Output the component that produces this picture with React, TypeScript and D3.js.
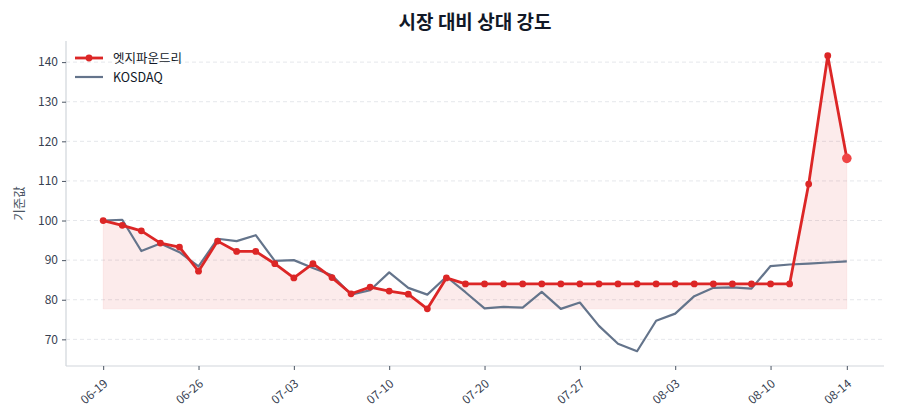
import { useEffect, useRef } from 'react'
import * as d3 from 'd3'

const dates = [
  '06-19', '06-20', '06-21', '06-22', '06-23', '06-26', '06-27', '06-28', '06-29', '06-30',
  '07-03', '07-04', '07-05', '07-06', '07-07', '07-10', '07-11', '07-12', '07-13', '07-14',
  '07-20', '07-21', '07-24', '07-25', '07-26', '07-27', '07-28', '07-31', '08-01', '08-02',
  '08-03', '08-04', '08-07', '08-08', '08-09', '08-10', '08-11', '08-12', '08-13', '08-14',
]

const stock = [
  100, 98.8, 97.4, 94.3, 93.3, 87.2, 94.8, 92.2, 92.2, 89.1,
  85.5, 89.1, 85.6, 81.5, 83.2, 82.2, 81.4, 77.7, 85.5, 84.0,
  84.0, 84.0, 84.0, 84.0, 84.0, 84.0, 84.0, 84.0, 84.0, 84.0,
  84.0, 84.0, 84.0, 84.0, 84.0, 84.0, 84.0, 109.2, 141.6, 115.7,
]

const kosdaq = [
  100, 100.2, 92.3, 94.2, 92.0, 88.4, 95.4, 94.8, 96.3, 89.8,
  90.0, 88.0, 86.2, 81.3, 82.4, 86.9, 83.0, 81.3, 85.8, 81.9,
  77.8, 78.2, 78.0, 82.0, 77.7, 79.3, 73.4, 68.9, 67.0, 74.7,
  76.5, 80.9, 83.0, 83.1, 82.8, 88.5, 88.9, 89.1, 89.4, 89.7,
]

const yTicks = [70, 80, 90, 100, 110, 120, 130, 140]
const xTickIdx = [0, 5, 10, 15, 20, 25, 30, 35, 39]

const W = 900
const H = 420
const FONT = '"Noto Sans CJK KR", "Noto Sans", sans-serif'

export default function App() {
  const ref = useRef<SVGSVGElement>(null)

  useEffect(() => {
    if (!ref.current) return
    const svg = d3.select(ref.current)
    svg.selectAll('*').remove()

    const m = { left: 66, right: 16, top: 41, bottom: 54 }
    const n = dates.length
    const pad = (n - 1) * 0.05
    const x = d3.scaleLinear().domain([-pad, n - 1 + pad]).range([m.left, W - m.right])

    const all = [...stock, ...kosdaq]
    const lo = d3.min(all) as number
    const hi = d3.max(all) as number
    const yPad = (hi - lo) * 0.05
    const y = d3.scaleLinear().domain([lo - yPad, hi + yPad]).range([H - m.bottom, m.top])

    // grid
    svg.append('g')
      .selectAll('line')
      .data(yTicks)
      .join('line')
      .attr('x1', m.left).attr('x2', W - m.right)
      .attr('y1', d => y(d)).attr('y2', d => y(d))
      .attr('stroke', '#e5e7eb')
      .attr('stroke-dasharray', '4,3')

    // fill under stock line down to its min
    const base = d3.min(stock) as number
    const area = d3.area<number>()
      .x((_, i) => x(i))
      .y0(y(base))
      .y1(d => y(d))
    svg.append('path')
      .attr('d', area(stock) as string)
      .attr('fill', '#dc2626')
      .attr('fill-opacity', 0.09)
      .attr('stroke', '#dc2626')
      .attr('stroke-opacity', 0.06)

    // spines
    svg.append('line')
      .attr('x1', m.left).attr('x2', m.left)
      .attr('y1', m.top).attr('y2', H - m.bottom)
      .attr('stroke', '#d1d5db').attr('stroke-width', 1.2)
    svg.append('line')
      .attr('x1', m.left).attr('x2', W - m.right)
      .attr('y1', H - m.bottom).attr('y2', H - m.bottom)
      .attr('stroke', '#d1d5db').attr('stroke-width', 1.2)

    // y axis
    const yAxis = svg.append('g')
      .attr('transform', `translate(${m.left},0)`)
      .call(d3.axisLeft(y).tickValues(yTicks).tickSize(4).tickPadding(4))
    yAxis.select('.domain').remove()
    yAxis.selectAll('line').attr('stroke', '#4b5563')
    yAxis.selectAll('text')
      .attr('font-family', FONT).attr('font-size', 12).attr('fill', '#374151')

    // x axis
    const xAxis = svg.append('g')
      .attr('transform', `translate(0,${H - m.bottom})`)
      .call(d3.axisBottom(x).tickValues(xTickIdx).tickSize(4).tickFormat(d => dates[d as number]))
    xAxis.select('.domain').remove()
    xAxis.selectAll('line').attr('stroke', '#4b5563')
    xAxis.selectAll('text')
      .attr('font-family', FONT).attr('font-size', 12).attr('fill', '#374151')
      .attr('text-anchor', 'end')
      .attr('x', 0).attr('y', 0).attr('dy', 0)
      .attr('transform', 'translate(5,19) rotate(-40)')

    // kosdaq
    const line = d3.line<number>().x((_, i) => x(i)).y(d => y(d))
    svg.append('path')
      .attr('d', line(kosdaq) as string)
      .attr('fill', 'none')
      .attr('stroke', '#64748b')
      .attr('stroke-width', 2.2)
      .attr('stroke-linejoin', 'round')

    // stock
    svg.append('path')
      .attr('d', line(stock) as string)
      .attr('fill', 'none')
      .attr('stroke', '#dc2626')
      .attr('stroke-width', 2.8)
      .attr('stroke-linejoin', 'round')
    svg.append('g')
      .selectAll('circle')
      .data(stock.slice(0, -1))
      .join('circle')
      .attr('cx', (_, i) => x(i)).attr('cy', d => y(d))
      .attr('r', 3.4)
      .attr('fill', '#dc2626')
    svg.append('circle')
      .attr('cx', x(n - 1)).attr('cy', y(stock[n - 1]))
      .attr('r', 4.8)
      .attr('fill', '#ef4444')

    // legend
    const lg = svg.append('g').attr('transform', `translate(75,58)`)
    lg.append('line').attr('x1', 0).attr('x2', 28).attr('y1', 0).attr('y2', 0)
      .attr('stroke', '#dc2626').attr('stroke-width', 2.8)
    lg.append('circle').attr('cx', 14).attr('cy', 0).attr('r', 3.4).attr('fill', '#dc2626')
    lg.append('text').attr('x', 38).attr('y', 4.5)
      .attr('font-family', FONT).attr('font-size', 12.5).attr('fill', '#111827')
      .text('엣지파운드리')
    lg.append('line').attr('x1', 0).attr('x2', 28).attr('y1', 19).attr('y2', 19)
      .attr('stroke', '#64748b').attr('stroke-width', 2.2)
    lg.append('text').attr('x', 38).attr('y', 23.5)
      .attr('font-family', FONT).attr('font-size', 12.5).attr('fill', '#111827')
      .text('KOSDAQ')

    // title
    svg.append('text')
      .attr('x', (m.left + W - m.right) / 2).attr('y', 29)
      .attr('text-anchor', 'middle')
      .attr('font-family', FONT).attr('font-size', 19).attr('font-weight', 'bold')
      .attr('fill', '#111827')
      .text('시장 대비 상대 강도')

    // y label
    svg.append('text')
      .attr('transform', `translate(24,${(m.top + H - m.bottom) / 2}) rotate(-90)`)
      .attr('text-anchor', 'middle')
      .attr('font-family', FONT).attr('font-size', 12.5).attr('fill', '#4b5563')
      .text('기준값')
  }, [])

  return (
    <div style={{ margin: -8 }}>
      <svg ref={ref} width={W} height={H} style={{ display: 'block', background: '#fff' }} />
    </div>
  )
}
